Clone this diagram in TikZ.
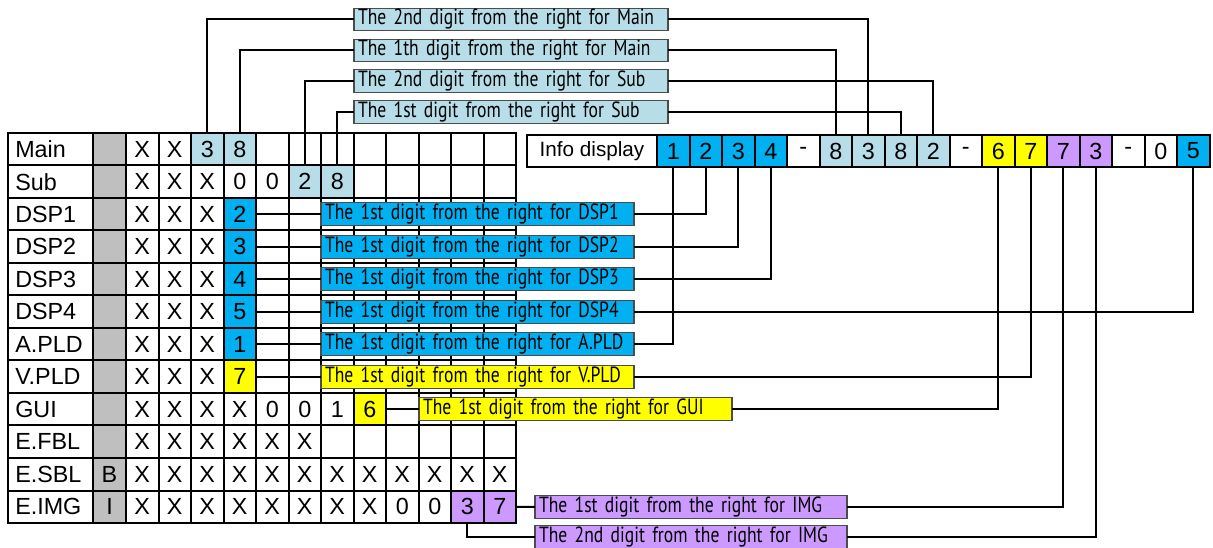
\documentclass[tikz,border=0pt]{standalone}
\usepackage{fontspec}
\setmainfont{Liberation Sans}
\newfontfamily\condfont[FakeStretch=0.8]{PT Sans}
\definecolor{lblue}{RGB}{183,221,232}
\definecolor{cyanb}{RGB}{0,176,240}
\definecolor{yel}{RGB}{255,255,0}
\definecolor{purp}{RGB}{204,153,255}
\definecolor{grayc}{RGB}{191,191,191}
\begin{document}
\begin{tikzpicture}[x=0.75pt,y=-0.75pt,
  cellb/.style={draw, line width=1.5pt, minimum width=24.375pt, minimum height=24.375pt,
    inner sep=0pt, outer sep=0pt, font=\fontsize{17.5}{20}\selectfont},
  namec/.style={draw, line width=1.5pt, minimum width=63.75pt, minimum height=24.375pt,
    inner sep=0pt, outer sep=0pt},
  rowtxt/.style={anchor=west, inner sep=0pt, font=\fontsize{17.5}{20}\selectfont},
  celltxt/.style={font=\fontsize{17.5}{20}\selectfont},
  lbox/.style={draw=black!70, line width=0.8pt, minimum height=17pt, inner ysep=0pt,
    inner xsep=3pt, outer sep=0pt, anchor=west, align=left,
    font=\condfont\fontsize{16.5}{17}\selectfont},
  tbox/.style={lbox, fill=lblue, text width=229.5pt},
  dbox/.style={lbox, text width=228.75pt},
  gbox/.style={lbox, fill=yel, text width=228.75pt},
  ibox/.style={lbox, fill=purp, text width=228pt},
  conn/.style={line width=1.5pt}
]
\useasboundingbox (0,0) rectangle (1213,548);

% table grid
\foreach \r in {1,...,12}{
  \node[namec] (n\r) at (50.5,{149.25+(\r-1)*32.5}) {};
  \node[cellb, fill=grayc] (g\r) at (109.5,{149.25+(\r-1)*32.5}) {};
  \foreach \c in {1,...,12}
    \node[cellb] (r\r-\c) at ({142.25+(\c-1)*32.5},{149.25+(\r-1)*32.5}) {};
}
% row names
\foreach \t [count=\r] in {Main,Sub,DSP1,DSP2,DSP3,DSP4,A.PLD,V.PLD,GUI,E.FBL,E.SBL,E.IMG}
  \node[rowtxt] at (15,{149.25+(\r-1)*32.5}) {\t};
\node[celltxt] at (g11) {B};
\node[celltxt] at (g12) {I};

% X entries
\foreach \c in {1,2} \node[celltxt] at (r1-\c) {X};
\foreach \r in {2,...,8} \foreach \c in {1,2,3} \node[celltxt] at (r\r-\c) {X};
\foreach \c in {1,...,4} \node[celltxt] at (r9-\c) {X};
\foreach \c in {1,...,6} \node[celltxt] at (r10-\c) {X};
\foreach \c in {1,...,12} \node[celltxt] at (r11-\c) {X};
\foreach \c in {1,...,8} \node[celltxt] at (r12-\c) {X};

% other entries
\node[cellb, fill=lblue] at (r1-3) {3};
\node[cellb, fill=lblue] at (r1-4) {8};
\node[celltxt] at (r2-4) {0};
\node[celltxt] at (r2-5) {0};
\node[cellb, fill=lblue] at (r2-6) {2};
\node[cellb, fill=lblue] at (r2-7) {8};
\node[cellb, fill=cyanb] at (r3-4) {2};
\node[cellb, fill=cyanb] at (r4-4) {3};
\node[cellb, fill=cyanb] at (r5-4) {4};
\node[cellb, fill=cyanb] at (r6-4) {5};
\node[cellb, fill=cyanb] at (r7-4) {1};
\node[cellb, fill=yel] at (r8-4) {7};
\node[celltxt] at (r9-5) {0};
\node[celltxt] at (r9-6) {0};
\node[celltxt] at (r9-7) {1};
\node[cellb, fill=yel] at (r9-8) {6};
\node[celltxt] at (r12-9) {0};
\node[celltxt] at (r12-10) {0};
\node[cellb, fill=purp] at (r12-11) {3};
\node[cellb, fill=purp] at (r12-12) {7};

% info display
\node[draw, line width=1.5pt, minimum width=97.5pt, minimum height=24.375pt, inner sep=0pt,
  font=\fontsize{15.5}{18}\selectfont] (info) at (592,151) {Info display};
\foreach \t/\col [count=\k] in {1/cyanb,2/cyanb,3/cyanb,4/cyanb,-/white,8/lblue,3/lblue,8/lblue,2/lblue,-/white,6/yel,7/yel,7/purp,3/purp,-/white,0/white,5/cyanb}
  \node[cellb, fill=\col] (i\k) at ({673.25+(\k-1)*32.5},151) {\t};

% top label boxes
\node[tbox] (tb1) at (354,19.5) {The 2nd digit from the right for Main};
\node[tbox] (tb2) at (354,50.5) {The 1th digit from the right for Main};
\node[tbox] (tb3) at (354,81) {The 2nd digit from the right for Sub};
\node[tbox] (tb4) at (354,112) {The 1st digit from the right for Sub};

% row label boxes
\node[dbox, fill=cyanb] (d1) at (321,214.25) {The 1st digit from the right for DSP1};
\node[dbox, fill=cyanb] (d2) at (321,246.75) {The 1st digit from the right for DSP2};
\node[dbox, fill=cyanb] (d3) at (321,279.25) {The 1st digit from the right for DSP3};
\node[dbox, fill=cyanb] (d4) at (321,311.75) {The 1st digit from the right for DSP4};
\node[dbox, fill=cyanb] (ap) at (321,344.25) {The 1st digit from the right for A.PLD};
\node[dbox, fill=yel] (vp) at (321,376.75) {The 1st digit from the right for V.PLD};
\node[gbox] (gu) at (419,409.25) {The 1st digit from the right for GUI};
\node[ibox] (im1) at (535,507) {The 1st digit from the right for IMG};
\node[ibox] (im2) at (535,537) {The 2nd digit from the right for IMG};

% connectors: top
\draw[conn] (tb1.west) -| (r1-3.north);
\draw[conn] (tb1.east) -| (i7.north);
\draw[conn] (tb2.west) -| (r1-4.north);
\draw[conn] (tb2.east) -| (i6.north);
\draw[conn] (tb3.west) -| (r2-6.north);
\draw[conn] (tb3.east) -| (i9.north);
\draw[conn] (tb4.west) -| (r2-7.north);
\draw[conn] (tb4.east) -| (i8.north);

% connectors: rows
\draw[conn] (r3-4.east) -- (d1.west);
\draw[conn] (r4-4.east) -- (d2.west);
\draw[conn] (r5-4.east) -- (d3.west);
\draw[conn] (r6-4.east) -- (d4.west);
\draw[conn] (r7-4.east) -- (ap.west);
\draw[conn] (r8-4.east) -- (vp.west);
\draw[conn] (r9-8.east) -- (gu.west);
\draw[conn] (r12-12.east) -- (im1.west);
\draw[conn] (r12-11.south) |- (im2.west);

\draw[conn] (d1.east) -| (i2.south);
\draw[conn] (d2.east) -| (i3.south);
\draw[conn] (d3.east) -| (i4.south);
\draw[conn] (d4.east) -| (i17.south);
\draw[conn] (ap.east) -| (i1.south);
\draw[conn] (vp.east) -| (i12.south);
\draw[conn] (gu.east) -| (i11.south);
\draw[conn] (im1.east) -| (i13.south);
\draw[conn] (im2.east) -| (i14.south);
\end{tikzpicture}
\end{document}
